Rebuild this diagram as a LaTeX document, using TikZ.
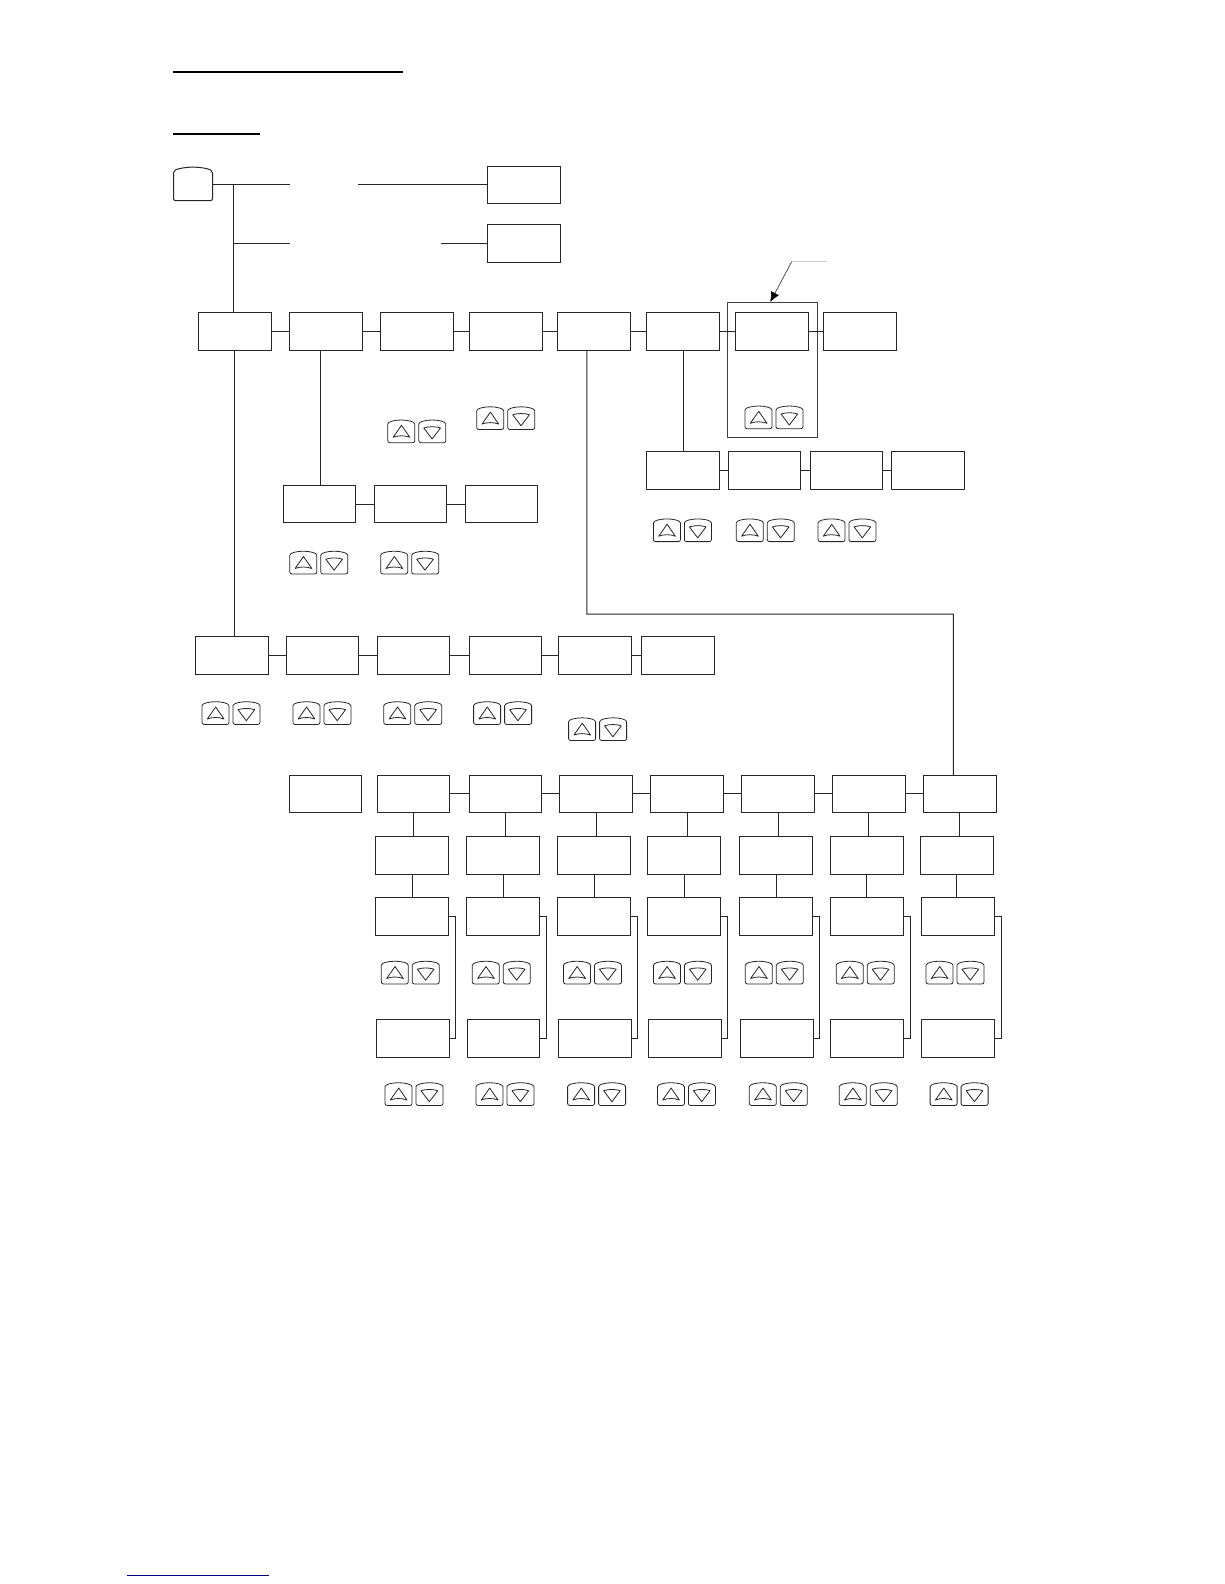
\documentclass[tikz,border=0pt]{standalone}
\usetikzlibrary{arrows.meta}
\tikzset{
  every picture/.style={x=1pt,y=-1pt},
  boxnode/.style={draw=black!85,line width=1pt,rectangle,anchor=north west,inner sep=0pt,outer sep=0pt,minimum width=72.7pt,minimum height=37.7pt},
  link/.style={draw=black!85,line width=1pt},
  rule/.style={draw=black,line width=2pt},
  keyline/.style={draw=black!85,line width=0.8pt,line join=round},
  keypair/.pic={
    \draw[keyline] (0,4) .. controls (0,2.5) and (2,2) .. (4,1.2) .. controls (10,-0.4) and (17,-0.4) .. (23,1.2) .. controls (25,2) and (27,2.5) .. (27,4) -- (27,20.7) .. controls (27,21.8) and (26.1,22.7) .. (25,22.7) -- (2,22.7) .. controls (0.9,22.7) and (0,21.8) .. (0,20.7) -- cycle;
    \draw[keyline] (13.7,5.3) -- (22,17.3) .. controls (17,15.3) and (10,15.3) .. (5.3,17.3) -- cycle;
    \begin{scope}[xshift=31pt]
    \draw[keyline] (0,4) .. controls (0,2.5) and (2,2) .. (4,1.2) .. controls (10,-0.4) and (17,-0.4) .. (23,1.2) .. controls (25,2) and (27,2.5) .. (27,4) -- (27,20.7) .. controls (27,21.8) and (26.1,22.7) .. (25,22.7) -- (2,22.7) .. controls (0.9,22.7) and (0,21.8) .. (0,20.7) -- cycle;
    \draw[keyline] (5,8) .. controls (10,6.3) and (17,6.3) .. (21.7,8) -- (13.3,19) -- cycle;
    \end{scope}
  }
}
\begin{document}
\begin{tikzpicture}
\fill[white] (0,0) rectangle (1224,1584);
\useasboundingbox (0,0) rectangle (1224,1584);

% page rules
\coordinate (ruleA) at (173,72); \coordinate (ruleB) at (403,72);
\draw[rule] (ruleA) -- (ruleB);
\coordinate (ruleC) at (173,134); \coordinate (ruleD) at (260,134);
\draw[rule] (ruleC) -- (ruleD);
\coordinate (ruleE) at (127,1575); \coordinate (ruleF) at (269,1575);
\draw[draw=blue!50!black,line width=1pt] (ruleE) -- (ruleF);

% root key
\draw[keyline,line width=1pt] (173.5,173) .. controls (173.5,170) and (176,169.5) .. (180,168.5) .. controls (188,166.7) and (198,166.7) .. (206,168.5) .. controls (210,169.5) and (212.5,170) .. (212.5,173) -- (212.5,198.7) .. controls (212.5,199.8) and (211.6,200.7) .. (210.5,200.7) -- (175.5,200.7) .. controls (174.4,200.7) and (173.5,199.8) .. (173.5,198.7) -- cycle;
\node[anchor=north west,inner sep=0pt,outer sep=0pt,minimum width=39pt,minimum height=35pt] (root) at (173.5,167) {};

% top boxes
\node[boxnode] (topa) at (487.8,166) {};
\node[boxnode] (topb) at (487.8,224.4) {};

% row 1
\foreach \n/\x in {a/198.8,b/289.4,c/380.4,d/469.4,e/557.4,f/646.9,g/735.4,h/823.7}
  \node[boxnode] (ra\n) at (\x,312.6) {};
% row 2
\foreach \n/\x in {a/646.7,b/728.1,c/810.1,d/891.7}
  \node[boxnode] (rb\n) at (\x,451.7) {};
% row 3
\foreach \n/\x in {a/283.2,b/374.1,c/465}
  \node[boxnode] (rc\n) at (\x,485.2) {};
% row 4
\foreach \n/\x in {a/195.4,b/286.2,c/377.1,d/469,e/558.9,f/641.7}
  \node[boxnode] (rd\n) at (\x,636.6) {};
% row 5
\foreach \n/\x in {a/289.2,b/377.1,c/469,d/559.9,e/650.8,f/741.7,g/832.6,h/923.4}
  \node[boxnode] (re\n) at (\x,775) {};
% rows 6-8
\foreach \n/\x in {b/375.7,c/466.7,d/557.9,e/647.7,f/739.7,g/830.5,h/920.4}
  \node[boxnode] (rf\n) at (\x,836.6) {};
\foreach \n/\x in {b/375.7,c/466.7,d/557.9,e/647.7,f/739.7,g/830.5,h/921.4}
  \node[boxnode] (rg\n) at (\x,897.7) {};
\foreach \n/\x in {b/376.4,c/467.1,d/558.9,e/648.8,f/740.6,g/830.5,h/921.4}
  \node[boxnode] (rh\n) at (\x,1019.7) {};

% frame round box g
\node[draw=black!75,line width=1pt,rectangle,anchor=north west,inner sep=0pt,outer sep=0pt,minimum width=90pt,minimum height=135.7pt] (frame) at (727,302) {};

% connectors
\coordinate (stubA) at (290,184.5); \coordinate (stubB) at (358,184.5);
\coordinate (stubC) at (290,243); \coordinate (stubD) at (441,243);
\coordinate (spine) at (233.3,184.5);
\draw[link] (root.east |- stubA) -- (stubA);
\draw[link] (stubB) -- (stubB -| topa.west);
\draw[link] (spine |- stubC) -- (stubC);
\draw[link] (stubD) -- (stubD -| topb.west);
\draw[link] (spine) -- (spine |- raa.north);

\foreach \p/\q in {a/b,b/c,c/d,d/e,e/f,f/g,g/h}
  \draw[link] (ra\p.east) -- (ra\q.west);
\foreach \p/\q in {a/b,b/c,c/d}
  \draw[link] (rb\p.east) -- (rb\q.west);
\foreach \p/\q in {a/b,b/c}
  \draw[link] (rc\p.east) -- (rc\q.west);
\foreach \p/\q in {a/b,b/c,c/d,d/e,e/f}
  \draw[link] (rd\p.east) -- (rd\q.west);
\foreach \p/\q in {b/c,c/d,d/e,e/f,f/g,g/h}
  \draw[link] (re\p.east) -- (re\q.west);

\draw[link] ([xshift=-0.7pt]raa.south) -- ([xshift=-0.7pt]raa.south |- rda.north);
\draw[link] ([xshift=-5pt]rab.south) -- ([xshift=-5pt]rab.south |- rca.north);
\draw[link] (raf.south) -- (raf.south |- rba.north);
\coordinate (bendA) at (586.8,614); \coordinate (bendB) at (953.3,614);
\draw[link] ([xshift=-7pt]rae.south) -- (bendA) -- (bendB) -- (bendB |- reh.north);

\foreach \n in {b,c,d,e,f,g,h}{
  \draw[link] (re\n.south) -- (re\n.south |- rf\n.north);
  \draw[link] (rf\n.south) -- (rf\n.south |- rg\n.north);
  \draw[link] (rg\n.east) -- ++(7,0) -- ++(0,122) -- (rh\n.east);
}

% callout arrow
\coordinate (callA) at (826.7,261.7); \coordinate (callB) at (791.7,261.7);
\draw[draw=black!20,line width=1pt] (callA) -- (callB);
\draw[draw=black!75,line width=0.7pt,-{Latex[length=10pt,width=9pt,black]}] (callB) -- ([xshift=-1.8pt]frame.north);

% key pairs
\foreach \x/\y in {387.8/420,476.7/406.8,745/406,
  289.8/551.2,380.7/551.2,
  653.4/518.9,736.3/518.9,818/518.9,
  202/701.7,292.9/701.7,383.8/701.7,473.6/701.7,568.6/717.8,
  381.3/961.2,472.3/961.2,563.5/961.2,653.4/961.2,745.3/961.2,836.2/961.2,926/961.2,
  385/1082.7,476/1082.7,567.6/1082.7,657.4/1082.7,749.3/1082.7,839.2/1082.7,930.1/1082.7}
  \pic at (\x,\y) {keypair};
\end{tikzpicture}
\end{document}
